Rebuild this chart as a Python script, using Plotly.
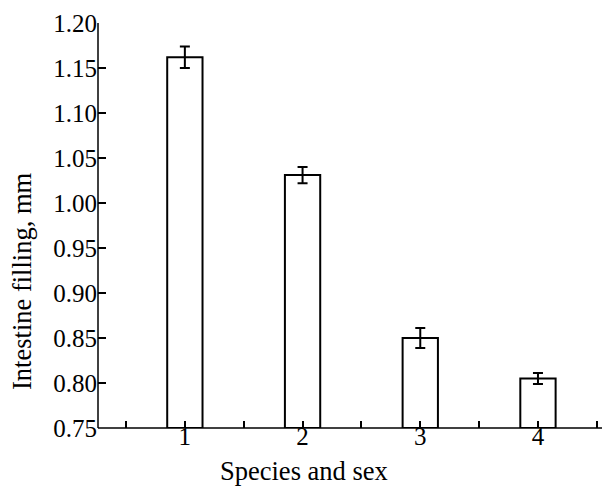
import plotly.graph_objects as go

categories = [1, 2, 3, 4]
values = [1.162, 1.031, 0.850, 0.805]
errors = [0.012, 0.009, 0.011, 0.006]
x_tickvals = [0.5, 1, 1.5, 2, 2.5, 3, 3.5, 4, 4.5]
x_ticktext = ["", "1", "", "2", "", "3", "", "4", ""]
y_tickvals = [0.75, 0.80, 0.85, 0.90, 0.95, 1.00, 1.05, 1.10, 1.15, 1.20]

FONT = "Liberation Serif, Times New Roman, serif"

fig = go.Figure()
fig.add_trace(go.Bar(
    x=categories, y=[v - 0.75 for v in values], base=0.75,
    width=0.30,
    marker=dict(color="white", line=dict(color="black", width=2)),
    error_y=dict(type="data", array=errors, color="black", thickness=2, width=5),
))

fig.update_layout(
    width=602, height=478,
    margin=dict(l=90, r=2, t=15, b=58),
    plot_bgcolor="white", paper_bgcolor="white",
    showlegend=False,
    font=dict(family=FONT, size=25, color="black"),
    xaxis=dict(
        range=[0.262, 4.595], tickvals=x_tickvals, ticktext=x_ticktext,
        ticks="inside", ticklen=7, tickwidth=1.5, tickcolor="black",
        showline=False, showgrid=False, zeroline=False,
        tickfont=dict(family=FONT, size=25),
        ticklabelstandoff=-9,
    ),
    yaxis=dict(
        range=[0.75, 1.20], tickvals=y_tickvals, tickformat=".2f",
        ticks="inside", ticklen=8, tickwidth=1.5, tickcolor="black",
        showline=False, showgrid=False, zeroline=False,
        tickfont=dict(family=FONT, size=25),
    ),
)

# axis lines
fig.add_shape(type="line", xref="paper", yref="paper", x0=0, x1=1, y0=0, y1=0,
              line=dict(color="black", width=1.5))
fig.add_shape(type="line", xref="paper", yref="paper", x0=0, x1=0, y0=0, y1=1,
              line=dict(color="black", width=1.5))

fig.add_annotation(text="Intestine filling, mm", xref="paper", yref="paper",
                   x=-0.149, y=0.363, textangle=-90, showarrow=False,
                   font=dict(family=FONT, size=26.5), xanchor="center", yanchor="middle")
fig.add_annotation(text="Species and sex", xref="paper", yref="paper",
                   x=0.404, y=-0.106, showarrow=False,
                   font=dict(family=FONT, size=26.5), xanchor="center", yanchor="middle")

fig.write_html("out.html")
